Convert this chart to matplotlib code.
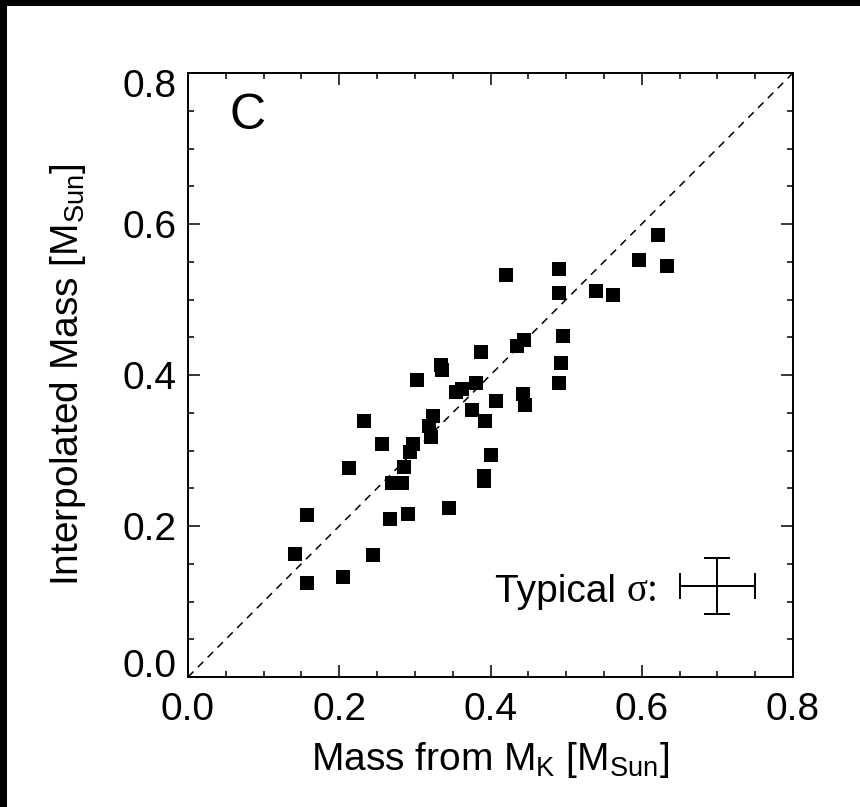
#!/usr/bin/env python3
"""Interpolated mass vs mass from M_K, panel C."""

import matplotlib
matplotlib.use("Agg")
import matplotlib.pyplot as plt
import matplotlib.transforms as mtransforms
from matplotlib.patches import Rectangle

# Mass from M_K (x) and interpolated mass (y), in solar masses
mass_mk = [
    0.142, 0.158, 0.158, 0.205, 0.245, 0.213, 0.233, 0.256, 0.267, 0.291,
    0.345, 0.270, 0.283, 0.286, 0.293, 0.298, 0.303, 0.321, 0.319, 0.324,
    0.334, 0.336, 0.354, 0.362, 0.381, 0.388, 0.375, 0.393, 0.407, 0.401,
    0.392, 0.391, 0.435, 0.444, 0.443, 0.446, 0.421, 0.490, 0.490, 0.496,
    0.493, 0.490, 0.540, 0.562, 0.596, 0.621, 0.633,
]
mass_interp = [
    0.163, 0.215, 0.125, 0.133, 0.162, 0.277, 0.339, 0.308, 0.209, 0.216,
    0.224, 0.257, 0.257, 0.278, 0.298, 0.309, 0.393, 0.318, 0.332, 0.346,
    0.413, 0.406, 0.378, 0.382, 0.390, 0.431, 0.353, 0.339, 0.366, 0.294,
    0.266, 0.260, 0.438, 0.446, 0.375, 0.360, 0.532, 0.540, 0.508, 0.452,
    0.416, 0.389, 0.511, 0.506, 0.552, 0.585, 0.544,
]

# typical uncertainty shown in the corner
sigma_pos = (0.70, 0.12)
sigma_x = 0.050
sigma_y = 0.037

ticks = [0.0, 0.2, 0.4, 0.6, 0.8]
tick_labels = ["0.0", "0.2", "0.4", "0.6", "0.8"]

plt.rcParams["font.family"] = ["Liberation Sans", "DejaVu Sans"]
plt.rcParams["mathtext.fontset"] = "custom"
plt.rcParams["mathtext.rm"] = "Liberation Sans"
plt.rcParams["mathtext.it"] = "Liberation Sans:italic"
plt.rcParams["lines.scale_dashes"] = False

fig = plt.figure(figsize=(8.6, 8.07), dpi=100, facecolor="black")
# white page with a thin black strip on the top and left
fig.patches.append(Rectangle((7 / 860, 0), 1, 1 - 6 / 807, transform=fig.transFigure,
                             facecolor="white", edgecolor="none", zorder=-1))
ax = fig.add_axes([188 / 860, 130 / 807, 605 / 860, 604 / 807])

# 1:1 line
ax.plot([0, 0.8], [0, 0.8], color="black", lw=1.1, linestyle=(0, (5.5, 4.5)))
ax.scatter(mass_mk, mass_interp, marker="s", s=95, color="black", linewidths=0, zorder=3)

ax.errorbar([sigma_pos[0]], [sigma_pos[1]], xerr=[sigma_x], yerr=[sigma_y], fmt="none",
            ecolor="black", elinewidth=1.4, capsize=9.7, capthick=1.4)
t1 = ax.text(0.406, 0.0993, "Typical ", fontsize=28, ha="left", va="baseline")
ax.annotate(":", xy=(1, 0), xycoords=t1, fontsize=28, ha="left", va="bottom",
            family="Liberation Serif", alpha=0)
t2 = ax.annotate("\u03c3:", xy=(1, 0), xycoords=t1, fontsize=28, ha="left", va="bottom",
                 family=["Liberation Serif"])

ax.text(0.079, 0.743, "C", fontsize=36, ha="center", va="center")

ax.set_xlim(0, 0.8)
ax.set_ylim(0, 0.8)
ax.set_xticks(ticks)
ax.set_xticklabels(tick_labels)
ax.set_yticks(ticks)
ax.set_yticklabels(tick_labels)
ax.set_xticks([t / 100 for t in range(0, 81, 5)], minor=True)
ax.set_yticks([t / 100 for t in range(0, 81, 5)], minor=True)
ax.tick_params(which="both", direction="in", top=True, right=True, width=1.1, color="black")
ax.tick_params(which="major", length=8.6, labelsize=28)
ax.tick_params(which="minor", length=4.3)
ax.tick_params(axis="x", which="major", pad=11)
ax.tick_params(axis="y", which="major", pad=8)
for s in ax.spines.values():
    s.set_linewidth(1.4)

ax.set_xlabel(r"Mass from M$_\mathrm{K}$ [M$_\mathrm{Sun}$]", fontsize=28)
ax.set_ylabel(r"Interpolated Mass [M$_\mathrm{Sun}$]", fontsize=28)
ax.xaxis.set_label_coords(0.5, -0.105)
ax.yaxis.set_label_coords(-0.165, 0.5)

# IDL-style: the end labels of the y axis sit inside the axis range
yt = ax.yaxis.get_major_ticks()
yt[0].label1.set_transform(yt[0].label1.get_transform()
                           + mtransforms.ScaledTranslation(0, 0.14, fig.dpi_scale_trans))
yt[-1].label1.set_transform(yt[-1].label1.get_transform()
                            + mtransforms.ScaledTranslation(0, -0.10, fig.dpi_scale_trans))

fig.savefig("out.png", dpi=100, facecolor=fig.get_facecolor())
